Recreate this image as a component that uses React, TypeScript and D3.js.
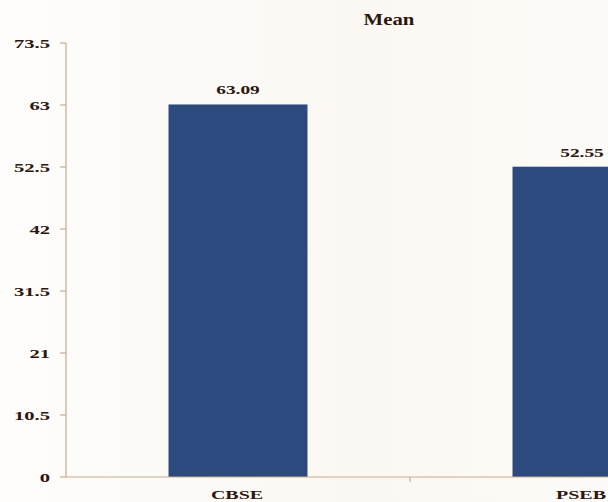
import React from "react";
import * as d3 from "d3";

const categories = ["CBSE", "PSEB"];
const meanValues = [63.09, 52.55];
const valueLabels = ["63.09", "52.55"];
const yTicks = [0, 10.5, 21, 31.5, 42, 52.5, 63, 73.5];
const chartTitle = "Mean";

const W = 608;
const H = 502;

function SText(props: { x: number; y: number; sx: number; size: number; anchor: string; children: React.ReactNode; fill: string }) {
  return (
    <text
      transform={`translate(${props.x},${props.y}) scale(${props.sx},1)`}
      textAnchor={props.anchor}
      fontWeight="bold"
      fontSize={props.size}
      fill={props.fill}
    >
      {props.children}
    </text>
  );
}

export default function App() {
  const x0 = 66;
  const y0 = 477;
  const x = d3.scaleBand<string>().domain(categories).range([x0, x0 + 688]).paddingInner(0.596).paddingOuter(0.298);
  const y = d3.scaleLinear().domain([0, 73.5]).range([y0, 43]);
  const step = x.step();
  const font = "'Liberation Serif', 'Times New Roman', serif";
  const textColor = "#2e1610";
  const axisColor = "#c9ab8f";
  return (
    <svg width={W} height={H} style={{ position: "absolute", left: 0, top: 0 }} fontFamily={font}>
      <defs>
        <linearGradient id="bg" x1="0" y1="0" x2="1" y2="0">
          <stop offset="0" stopColor="#fefdfb" />
          <stop offset="0.6" stopColor="#fbf8f3" />
          <stop offset="1" stopColor="#fdfbf7" />
        </linearGradient>
      </defs>
      <rect x={0} y={0} width={W} height={H} fill="url(#bg)" />
      <SText x={389} y={25} sx={1.3} size={16} anchor="middle" fill={textColor}>{chartTitle}</SText>
      {/* y axis */}
      <line x1={x0} x2={x0} y1={y(73.5)} y2={y0} stroke={axisColor} strokeWidth={1.2} />
      {yTicks.map((t) => (
        <g key={t}>
          <line x1={x0 - 6} x2={x0} y1={y(t)} y2={y(t)} stroke={axisColor} strokeWidth={1.2} />
          <SText x={50} y={y(t) + 5} sx={1.65} size={12.5} anchor="end" fill={textColor}>{t}</SText>
        </g>
      ))}
      {/* bars */}
      {categories.map((c, i) => (
        <rect key={c} x={x(c)!} y={y(meanValues[i])} width={x.bandwidth()} height={y0 - y(meanValues[i])} fill="#2c4a7d" />
      ))}
      {/* x axis */}
      <line x1={x0} x2={W} y1={y0} y2={y0} stroke={axisColor} strokeWidth={1.2} />
      {categories.slice(1).map((c) => (
        <line key={c} x1={x0 + step * categories.indexOf(c)} x2={x0 + step * categories.indexOf(c)} y1={y0} y2={y0 + 5} stroke={axisColor} strokeWidth={1.2} />
      ))}
      {categories.map((c, i) => (
        <g key={c + "l"}>
          <SText x={x(c)! + x.bandwidth() / 2} y={y(meanValues[i]) - 10} sx={1.55} size={12.5} anchor="middle" fill={textColor}>{valueLabels[i]}</SText>
          <SText x={x(c)! + x.bandwidth() / 2 - 1} y={y0 + 22} sx={1.6} size={12.5} anchor="middle" fill={textColor}>{c}</SText>
        </g>
      ))}
    </svg>
  );
}
